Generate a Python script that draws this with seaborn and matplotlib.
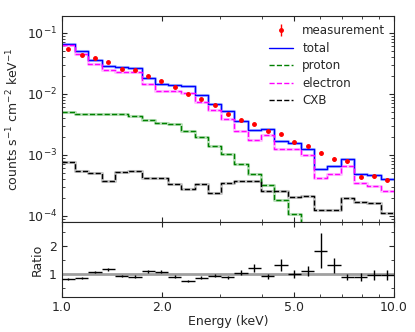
import numpy as np
import matplotlib
matplotlib.use("Agg")
import matplotlib.pyplot as plt
import matplotlib.ticker as mticker
import seaborn as sns

# energy bins (keV), 25 log-spaced bins between 1 and 10 keV
edges = np.logspace(0, 1, 26)

# measured rate (counts s^-1 cm^-2 keV^-1) per bin
meas = [0.055, 0.044, 0.0385, 0.034, 0.026, 0.0246, 0.0198, 0.0161, 0.013,
        0.0101, 0.0083, 0.0065, 0.0047, 0.0038, 0.0032, 0.0025, 0.0022,
        0.0016, 0.0014, 0.00107, 0.00086, 0.00078, 0.00044, 0.00045, 0.00039]
# relative errors on the measurement in the top panel
meas_rel_err = [0.03, 0.03, 0.03, 0.03, 0.03, 0.03, 0.03, 0.03, 0.03, 0.03,
                0.03, 0.03, 0.03, 0.03, 0.04, 0.04, 0.04, 0.04, 0.05, 0.07,
                0.06, 0.05, 0.06, 0.06, 0.06]
# errors of the ratio panel
ratio_err = [0.04, 0.04, 0.04, 0.05, 0.04, 0.05, 0.05, 0.05, 0.05, 0.05, 0.05,
             0.06, 0.07, 0.08, 0.12, 0.1, 0.16, 0.13, 0.15, 0.34, 0.2, 0.11,
             0.15, 0.19, 0.18]

total = [0.067, 0.050, 0.0355, 0.029, 0.028, 0.027, 0.018, 0.0148, 0.0142,
         0.0133, 0.0095, 0.0069, 0.0053, 0.0036, 0.0026, 0.0027, 0.00166,
         0.00158, 0.00126, 0.00058, 0.00065, 0.00087, 0.00049, 0.00047, 0.0004]
proton = [0.0051, 0.0046, 0.0047, 0.0046, 0.0046, 0.0044, 0.0037, 0.0033,
          0.0032, 0.0025, 0.0020, 0.0014, 0.00105, 0.00072, 0.00049, 0.00032,
          0.00018, 0.000108, 5e-5, 4e-5, 3e-5, 2.5e-5, 2e-5, 1.5e-5, 1e-5]
electron = [0.063, 0.045, 0.0314, 0.0247, 0.023, 0.0227, 0.0144, 0.0113,
            0.011, 0.0104, 0.0074, 0.0055, 0.0039, 0.0025, 0.00174, 0.0021,
            0.00123, 0.00126, 0.001, 0.00042, 0.00049, 0.00065, 0.00034,
            0.00031, 0.00026]
cxb = [0.00076, 0.00055, 0.0005, 0.00037, 0.00052, 0.00054, 0.00041, 0.00042,
       0.00033, 0.00028, 0.00033, 0.00024, 0.00035, 0.00037, 0.00037, 0.00026,
       0.00026, 0.000205, 0.000215, 0.000126, 0.000126, 0.000195, 0.00017,
       0.00016, 0.000112]

meas = np.array(meas)
total = np.array(total)
centers = np.sqrt(edges[:-1] * edges[1:])
xlo = centers - edges[:-1]
xhi = edges[1:] - centers
ratio = meas / total

sns.set_style("ticks")
plt.rcParams["font.family"] = ["DejaVu Sans"]
plt.rcParams["font.size"] = 9

fig = plt.figure(figsize=(4.15, 3.32), dpi=100)
ax = fig.add_axes([0.149, 0.331, 0.800, 0.621])
axr = fig.add_axes([0.149, 0.105, 0.800, 0.226], sharex=ax)


def step(vals):
    return np.append(vals, vals[-1])


models = [
    ("total", total, "blue", "-", "#8aa8ff"),
    ("proton", proton, "green", "--", "#9fd49f"),
    ("electron", electron, "magenta", "--", "#ffaaff"),
    ("CXB", cxb, "black", "--", "#b0b0b0"),
]

# light band behind each model
for name, vals, c, ls, bc in models:
    sns.lineplot(x=edges, y=step(np.array(vals)), ax=ax, drawstyle="steps-post",
                 color=bc, lw=2.2, alpha=0.7, estimator=None, sort=False)

ax.errorbar(centers, meas, yerr=meas * np.array(meas_rel_err), fmt="o",
            color="red", ms=2.5, elinewidth=1, capsize=0,
            label="measurement", zorder=5)

for name, vals, c, ls, bc in models:
    sns.lineplot(x=edges, y=step(np.array(vals)), ax=ax, drawstyle="steps-post",
                 color=c, lw=1, linestyle=ls, label=name, estimator=None,
                 sort=False)

ax.set_xscale("log")
ax.set_yscale("log")
ax.set_xlim(1, 10)
ax.set_ylim(7.9e-5, 0.19)
ax.set_ylabel("counts s$^{-1}$ cm$^{-2}$ keV$^{-1}$")
ax.tick_params(which="both", direction="in", top=True, right=True,
               labelbottom=False)
handles, labels = ax.get_legend_handles_labels()
order = ["measurement", "total", "proton", "electron", "CXB"]
hmap = dict(zip(labels, handles))
ax.legend([hmap[k] for k in order], order, loc="upper right", frameon=False,
          fontsize=8.6, labelspacing=0.38, borderaxespad=0.3)

# ratio panel
axr.axhline(1, color="#a0a0a0", lw=2, zorder=1)
axr.errorbar(centers, ratio, xerr=[xlo, xhi], yerr=ratio * np.array(ratio_err),
             fmt="none", ecolor="black", elinewidth=1, capsize=0, zorder=3)
axr.set_ylim(0.18, 2.86)
axr.set_ylabel("Ratio")
axr.set_xlabel("Energy (keV)", labelpad=1)
axr.yaxis.set_major_locator(mticker.FixedLocator([1, 2]))
axr.yaxis.set_minor_locator(mticker.FixedLocator([0.5, 1.5, 2.5]))
axr.tick_params(which="both", direction="in", top=True, right=True)
axr.tick_params(axis="x", pad=2.5)

axr.xaxis.set_major_locator(mticker.FixedLocator([1, 2, 5, 10]))
axr.xaxis.set_major_formatter(mticker.FixedFormatter(["1.0", "2.0", "5.0", "10.0"]))
axr.xaxis.set_minor_locator(mticker.LogLocator(base=10, subs=np.arange(2, 10)))
axr.xaxis.set_minor_formatter(mticker.NullFormatter())
axr.set_xlim(1, 10)

fig.savefig("out.png", dpi=100)
